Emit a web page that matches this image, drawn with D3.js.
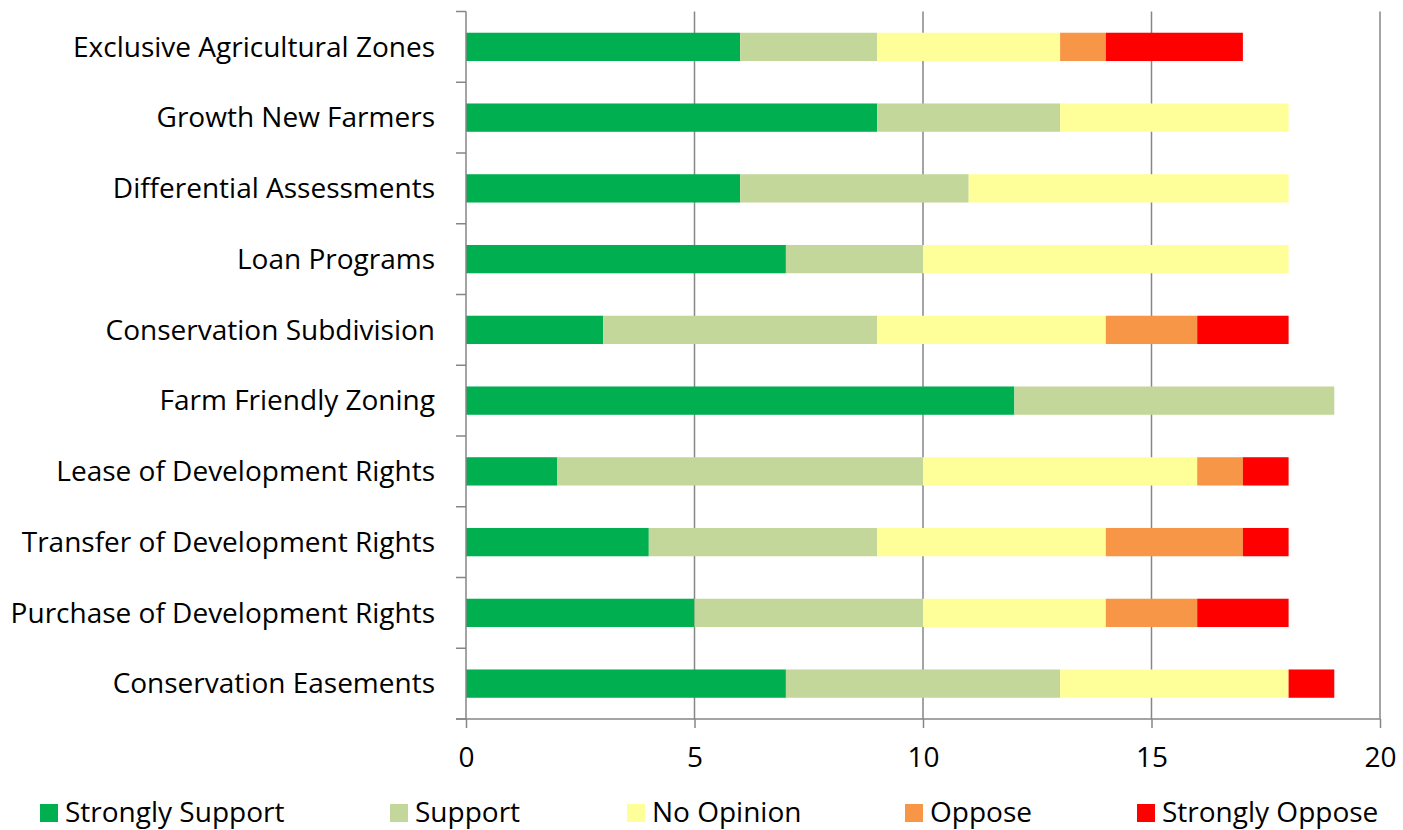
<!DOCTYPE html>
<html>
<head>
<meta charset="utf-8">
<script src="https://cdn.jsdelivr.net/npm/d3@7"></script>
<style>
  html, body { margin: 0; padding: 0; background: #fff; }
  svg text { font-family: "Open Sans", sans-serif; fill: #000; font-variant-ligatures: none; }
</style>
</head>
<body>
<svg id="chart" width="1403" height="830"></svg>
<script>
// Survey responses per farmland-preservation tool (count of respondents)
const categories = [
  "Exclusive Agricultural Zones",
  "Growth New Farmers",
  "Differential Assessments",
  "Loan Programs",
  "Conservation Subdivision",
  "Farm Friendly Zoning",
  "Lease of Development Rights",
  "Transfer of Development Rights",
  "Purchase of Development Rights",
  "Conservation Easements"
];
const seriesNames = ["Strongly Support", "Support", "No Opinion", "Oppose", "Strongly Oppose"];
const strongSupport  = [6, 9, 6, 7, 3, 12, 2, 4, 5, 7];
const support        = [3, 4, 5, 3, 6, 7, 8, 5, 5, 6];
const noOpinion      = [4, 5, 7, 8, 5, 0, 6, 5, 4, 5];
const oppose         = [1, 0, 0, 0, 2, 0, 1, 3, 2, 0];
const strongOppose   = [3, 0, 0, 0, 2, 0, 1, 1, 2, 1];
const xTicks = [0, 5, 10, 15, 20];
const colors = ["#00B050", "#C4D79B", "#FFFF99", "#F79646", "#FF0000"];

const seriesValues = [strongSupport, support, noOpinion, oppose, strongOppose];
const rows = categories.map((c, i) => {
  const r = { category: c };
  seriesNames.forEach((s, k) => { r[s] = seriesValues[k][i]; });
  return r;
});
const stacked = d3.stack().keys(seriesNames)(rows);

const svg = d3.select("#chart");
const margin = { left: 466, right: 23, top: 11.5, bottom: 111 };
const W = 1403, H = 830;
const fontSize = 28;

const x = d3.scaleLinear().domain([0, 20]).range([margin.left, W - margin.right]);
const y = d3.scaleBand().domain(categories).range([margin.top, H - margin.bottom]).paddingInner(0.6).paddingOuter(0.3);
const yEdge = d3.scaleLinear().domain([0, categories.length]).range([margin.top, H - margin.bottom]);

const axisColor = "#868686";

// vertical gridlines
svg.append("g").selectAll("line")
  .data(xTicks.filter(t => t > 0))
  .join("line")
  .attr("x1", d => x(d)).attr("x2", d => x(d))
  .attr("y1", margin.top).attr("y2", H - margin.bottom)
  .attr("stroke", axisColor).attr("stroke-width", 1.5);

// stacked bars
svg.append("g").selectAll("g")
  .data(stacked)
  .join("g")
  .attr("fill", (d, i) => colors[i])
  .selectAll("rect")
  .data(d => d)
  .join("rect")
  .attr("x", d => x(d[0]))
  .attr("width", d => x(d[1]) - x(d[0]))
  .attr("y", d => y(d.data.category))
  .attr("height", y.bandwidth());

// left axis (category axis) with tick marks at band edges
const gy = svg.append("g");
gy.append("line")
  .attr("x1", x(0)).attr("x2", x(0))
  .attr("y1", margin.top).attr("y2", H - margin.bottom)
  .attr("stroke", axisColor).attr("stroke-width", 1.5);
gy.selectAll("line.tick")
  .data(d3.range(categories.length + 1))
  .join("line").attr("class", "tick")
  .attr("x1", x(0) - 10).attr("x2", x(0))
  .attr("y1", d => yEdge(d)).attr("y2", d => yEdge(d))
  .attr("stroke", axisColor).attr("stroke-width", 1.5);
gy.selectAll("text")
  .data(categories)
  .join("text")
  .attr("x", 435)
  .attr("y", d => y(d) + y.bandwidth() / 2)
  .attr("dy", "0.35em")
  .attr("text-anchor", "end")
  .attr("font-size", fontSize)
  .text(d => d);

// bottom axis
const xAxis = d3.axisBottom(x).tickValues(xTicks).tickSize(9).tickPadding(19).tickSizeOuter(0);
const gx = svg.append("g")
  .attr("transform", `translate(0,${H - margin.bottom})`)
  .call(xAxis);
gx.select(".domain").attr("stroke", axisColor).attr("stroke-width", 1.5)
  .attr("d", `M${x(0) - 10},0H${x(20)}`);
gx.selectAll(".tick line").attr("stroke", axisColor).attr("stroke-width", 1.5);
gx.selectAll(".tick text")
  .attr("font-size", fontSize)
  .attr("font-family", "'Open Sans', sans-serif")
  .attr("fill", "#000");

// legend
const legendX = [40, 390, 627, 905, 1137];
const legend = svg.append("g").selectAll("g")
  .data(seriesNames)
  .join("g")
  .attr("transform", (d, i) => `translate(${legendX[i]},804)`);
legend.append("rect")
  .attr("width", 18).attr("height", 18)
  .attr("fill", (d, i) => colors[i]);
legend.append("text")
  .attr("x", 25).attr("y", 18)
  .attr("font-size", fontSize)
  .text(d => d);
</script>
</body>
</html>
